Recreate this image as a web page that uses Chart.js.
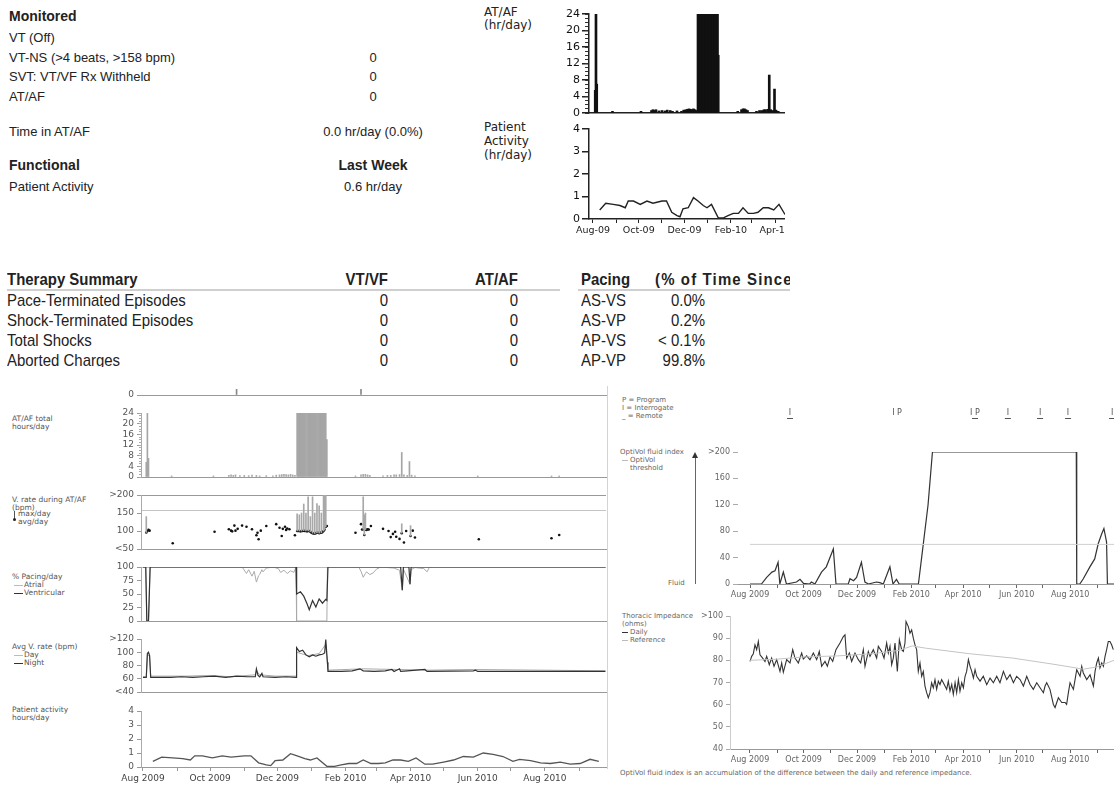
<!DOCTYPE html>
<html>
<head>
<meta charset="utf-8">
<title>Device report</title>
<script src="https://cdn.jsdelivr.net/npm/chart.js@4.4.0/dist/chart.umd.min.js"></script>
<style>
body { margin: 0; width: 1114px; height: 786px; overflow: hidden; position: relative; background: #fff; color: #222; font-family: "Liberation Sans", Arial, sans-serif; }
.t { position: absolute; white-space: nowrap; }
.m { font-size: 13px; line-height: 15px; }
.h { font-size: 14px; line-height: 15px; font-weight: bold; }
.v { width: 130px; text-align: center; left: 308px; }
.tb { font-family: "Liberation Sans Narrow", "Liberation Sans", Arial, sans-serif; font-size: 17px; line-height: 17px; transform: scaleX(0.88); transform-origin: 0 50%; }
.r { text-align: right; transform-origin: 100% 50%; }
.s { font-family: "DejaVu Sans", Verdana, sans-serif; font-size: 7.5px; line-height: 8px; color: #555; }
.k { font-family: "DejaVu Sans", Verdana, sans-serif; font-size: 7px; line-height: 8px; color: #666; }
.q { font-family: "DejaVu Sans", Verdana, sans-serif; font-size: 12px; line-height: 13px; color: #222; }
.ln { position: absolute; }
canvas { position: absolute; }
</style>
</head>
<body>

<!-- monitored / functional summary -->
<div class="t h" style="left:9px;top:9px">Monitored</div>
<div class="t m" style="left:9px;top:30px">VT (Off)</div>
<div class="t m" style="left:9px;top:50px">VT-NS (&gt;4 beats, &gt;158 bpm)</div>
<div class="t m v" style="top:50px">0</div>
<div class="t m" style="left:9px;top:69px">SVT: VT/VF Rx Withheld</div>
<div class="t m v" style="top:69px">0</div>
<div class="t m" style="left:9px;top:89px">AT/AF</div>
<div class="t m v" style="top:89px">0</div>
<div class="t m" style="left:9px;top:124px">Time in AT/AF</div>
<div class="t m v" style="top:124px">0.0 hr/day (0.0%)</div>
<div class="t h" style="left:9px;top:158px">Functional</div>
<div class="t h v" style="top:158px">Last Week</div>
<div class="t m" style="left:9px;top:179px">Patient Activity</div>
<div class="t m v" style="top:179px">0.6 hr/day</div>

<!-- small trend labels -->
<div class="t q" style="left:484px;top:6px">AT/AF</div>
<div class="t q" style="left:484px;top:19px">(hr/day)</div>
<div class="t q" style="left:484px;top:121px">Patient</div>
<div class="t q" style="left:484px;top:135px">Activity</div>
<div class="t q" style="left:484px;top:149px">(hr/day)</div>

<!-- therapy summary table -->
<div style="position:absolute;left:0;top:265px;width:790px;height:102px;overflow:hidden">
  <div class="t tb" style="left:7px;top:6px;font-weight:bold">Therapy Summary</div>
  <div class="t tb r" style="left:300px;width:88px;top:6px;font-weight:bold">VT/VF</div>
  <div class="t tb r" style="left:430px;width:88px;top:6px;font-weight:bold">AT/AF</div>
  <div class="t tb" style="left:581px;top:6px;font-weight:bold">Pacing</div>
  <div class="t tb" style="left:655px;top:6px;font-weight:bold;letter-spacing:1.3px">(% of Time Since Last Session)</div>
  <div class="ln" style="left:7px;top:24px;width:553px;height:2px;background:#cfcfcf"></div>
  <div class="ln" style="left:578px;top:24px;width:212px;height:2px;background:#cfcfcf"></div>

  <div class="t tb" style="left:7px;top:27px">Pace-Terminated Episodes</div>
  <div class="t tb" style="left:7px;top:47px">Shock-Terminated Episodes</div>
  <div class="t tb" style="left:7px;top:67px">Total Shocks</div>
  <div class="t tb" style="left:7px;top:87px">Aborted Charges</div>
  <div class="t tb r" style="left:300px;width:88px;top:27px">0</div>
  <div class="t tb r" style="left:300px;width:88px;top:47px">0</div>
  <div class="t tb r" style="left:300px;width:88px;top:67px">0</div>
  <div class="t tb r" style="left:300px;width:88px;top:87px">0</div>
  <div class="t tb r" style="left:430px;width:88px;top:27px">0</div>
  <div class="t tb r" style="left:430px;width:88px;top:47px">0</div>
  <div class="t tb r" style="left:430px;width:88px;top:67px">0</div>
  <div class="t tb r" style="left:430px;width:88px;top:87px">0</div>
  <div class="t tb" style="left:581px;top:27px">AS-VS</div>
  <div class="t tb" style="left:581px;top:47px">AS-VP</div>
  <div class="t tb" style="left:581px;top:67px">AP-VS</div>
  <div class="t tb" style="left:581px;top:87px">AP-VP</div>
  <div class="t tb r" style="left:623px;width:82px;top:27px">0.0%</div>
  <div class="t tb r" style="left:623px;width:82px;top:47px">0.2%</div>
  <div class="t tb r" style="left:623px;width:82px;top:67px">&lt; 0.1%</div>
  <div class="t tb r" style="left:623px;width:82px;top:87px">99.8%</div>
</div>

<!-- left trend panel labels -->
<div class="t s" style="left:12px;top:415px">AT/AF total<br>hours/day</div>
<div class="t s" style="left:12px;top:496px">V. rate during AT/AF<br>(bpm)</div>
<div class="t s" style="left:18px;top:510px">max/day<br>avg/day</div>
<div class="ln" style="left:14px;top:511px;width:1px;height:9px;background:#555"></div>
<div class="ln" style="left:13px;top:518px;width:3px;height:3px;border-radius:2px;background:#222"></div>
<div class="t s" style="left:12px;top:573px">% Pacing/day</div>
<div class="t s" style="left:24px;top:581px">Atrial<br>Ventricular</div>
<div class="ln" style="left:14px;top:585px;width:9px;height:1px;background:#bbb"></div>
<div class="ln" style="left:14px;top:593px;width:9px;height:1px;background:#333"></div>
<div class="t s" style="left:12px;top:643px">Avg V. rate (bpm)</div>
<div class="t s" style="left:24px;top:651px">Day<br>Night</div>
<div class="ln" style="left:14px;top:655px;width:9px;height:1px;background:#bbb"></div>
<div class="ln" style="left:14px;top:663px;width:9px;height:1px;background:#333"></div>
<div class="t s" style="left:12px;top:706px">Patient activity<br>hours/day</div>
<div class="ln" style="left:607px;top:386px;width:1px;height:383px;background:#d4d4d4"></div>

<!-- right trend panel labels -->
<div class="t k" style="left:622px;top:396px">P = Program<br>I = Interrogate<br>_ = Remote</div>
<div class="t k" style="left:620px;top:448px">OptiVol fluid index</div>
<div class="t k" style="left:630px;top:456px">OptiVol<br>threshold</div>
<div class="ln" style="left:622px;top:460px;width:6px;height:1px;background:#bbb"></div>
<div class="t k" style="left:668px;top:579px">Fluid</div>
<div class="ln" style="left:695px;top:458px;width:1px;height:126px;background:#666"></div>
<div class="ln" style="left:692px;top:452px;width:0;height:0;border-left:3px solid transparent;border-right:3px solid transparent;border-bottom:6px solid #333"></div>
<div class="t k" style="left:622px;top:612px">Thoracic Impedance<br>(ohms)</div>
<div class="t k" style="left:630px;top:628px">Daily<br>Reference</div>
<div class="ln" style="left:622px;top:632px;width:6px;height:1px;background:#333"></div>
<div class="ln" style="left:622px;top:640px;width:6px;height:1px;background:#bbb"></div>
<div class="t k" style="left:620px;top:769px">OptiVol fluid index is an accumulation of the difference between the daily and reference impedance.</div>

<canvas id="stripChart"></canvas>
<canvas id="atafChart"></canvas>
<canvas id="vrateChart"></canvas>
<canvas id="pacingChart"></canvas>
<canvas id="rateChart"></canvas>
<canvas id="activityChart"></canvas>
<canvas id="atafSmall"></canvas>
<canvas id="activitySmall"></canvas>
<canvas id="optivolChart"></canvas>
<canvas id="impedanceChart"></canvas>

<script>
(function () {
	'use strict';

	// days counted from 1 Aug 2009
	var monthStarts = [0, 31, 61, 92, 122, 153, 184, 212, 243, 273, 304, 334, 365, 396, 426];
	var monthLabels = ['Aug 2009', '', 'Oct 2009', '', 'Dec 2009', '', 'Feb 2010', '', 'Apr 2010', '', 'Jun 2010', '', 'Aug 2010', '', 'Oct 2010'];
	var monthShort = ['Aug-09', '', 'Oct-09', '', 'Dec-09', '', 'Feb-10', '', 'Apr-10', '', 'Jun-10', '', 'Aug-10', '', 'Oct-10'];
	var hourTicks = [0, 1, 2, 3, 4, 5, 6, 7, 8, 9, 10, 11, 12, 13, 14, 15, 16, 17, 18, 19, 20, 21, 22, 23, 24];

	// session markers
	var sessionDays = [85, 198];
	var eventDays = [45.6, 167.6, 256.5, 294, 330.7, 362.6, 412.8];
	var eventCodes = ['I', 'I P', 'I P', 'I', 'I', 'I', 'I'];
	var eventRemote = [true, false, true, true, true, true, true];

	// AT/AF hours per day
	var atafDays = [3, 4, 5, 26, 64, 78, 80, 82, 84, 88, 92, 96, 99, 103, 106, 112, 118, 121, 124, 126, 128, 130, 132, 134, 136, 138,
		140, 141, 142, 143, 144, 145, 146, 147, 148, 149, 150, 151, 152, 153, 154, 155, 156, 157, 158, 159, 160, 161, 162, 163, 164, 165, 166, 167,
		193, 198, 200, 202, 204, 206, 218, 222, 225, 228, 230, 233, 235, 237, 240, 242, 244, 247, 304, 371, 378];
	var atafHours = [5.5, 24, 7, 0.4, 0.4, 0.6, 0.8, 0.6, 0.8, 0.5, 0.6, 0.5, 0.7, 0.6, 0.4, 0.5, 0.4, 0.7, 0.8, 0.9, 1, 0.9, 0.8, 1, 0.8, 0.6,
		24, 24, 24, 24, 24, 24, 24, 24, 24, 24, 24, 24, 24, 24, 24, 24, 24, 24, 24, 24, 24, 24, 24, 24, 24, 24, 24, 14,
		0.4, 0.8, 1, 1, 0.8, 0.6, 0.4, 0.6, 0.6, 0.8, 0.8, 0.9, 9.2, 0.8, 0.6, 5.8, 0.7, 0.4, 0.4, 0.4, 0.4];

	// V. rate during AT/AF (bpm)
	var vAvgDays = [3, 4, 5, 6, 27, 65, 78, 80, 81, 83, 84, 86, 90, 94, 99, 103, 104, 105, 107, 112, 121, 124, 126, 127, 129, 130, 131, 133, 138,
		140, 141, 142, 143, 144, 145, 146, 147, 148, 149, 150, 151, 152, 153, 154, 155, 156, 157, 158, 159, 160, 161, 162, 163, 164, 165, 166, 167,
		193, 198, 199, 200, 201, 202, 203, 204, 205, 207, 218, 223, 225, 227, 229, 230, 233, 235, 237, 239, 243, 245, 247, 305, 371, 378];
	var vAvgRates = [96, 100, 103, 101, 66, 98, 105, 101, 99, 115, 101, 106, 115, 112, 105, 88, 95, 77, 101, 114, 119, 109, 86, 106, 112, 103, 107, 105, 88,
		100, 100, 100, 99, 100, 100, 101, 100, 100, 99, 100, 100, 98, 95, 94, 93, 93, 94, 95, 95, 94, 96, 95, 97, 100, 104, 112, 114,
		95, 119, 104, 105, 89, 104, 103, 105, 104, 114, 106, 100, 83, 92, 98, 84, 78, 94, 68, 100, 86, 101, 82, 77, 80, 89];
	var vMaxDays = [3, 140, 142, 144, 146, 148, 150, 152, 154, 156, 158, 160, 162, 164, 165, 166, 200, 201, 202, 235, 243];
	var vMaxRates = [140, 148, 145, 150, 175, 150, 195, 140, 195, 150, 176, 170, 150, 200, 200, 200, 195, 145, 150, 120, 115];
	var vThreshold = 158;

	// % pacing per day
	var ventDays = [0, 2.5, 3.5, 5, 6.5, 139, 139.5, 143, 146, 149, 151, 154, 157, 160, 163, 166, 167, 168, 234, 235.5, 236.5, 241.5, 242.5, 243.5, 420];
	var ventPct = [100, 100, 0, 0, 100, 100, 50, 54, 46, 32, 21, 38, 26, 41, 33, 40, 38, 100, 100, 57, 100, 100, 68, 100, 100];
	var atrDays = [0, 2.5, 3.5, 5, 6.5, 90, 94, 96, 99, 101, 103, 105, 106, 108, 109, 112, 118, 123, 125, 128, 131, 134, 137, 139, 139.5, 167, 167.5,
		196, 198, 200, 202, 203, 206, 209, 212, 216, 228, 233, 235.5, 236.5, 242.5, 243.5, 247, 255, 258, 260, 262, 420];
	var atrPct = [100, 100, 0, 0, 100, 100, 88, 95, 83, 92, 72, 84, 86, 95, 91, 98, 100, 97, 90, 94, 88, 93, 90, 100, 0, 0, 100,
		100, 92, 81, 88, 91, 86, 89, 96, 100, 98, 94, 57, 96, 68, 95, 99, 97, 91, 99, 100, 100];

	// average V. rate (bpm)
	var nightDays = [0, 3, 4, 5, 6, 7, 25, 35, 45, 55, 65, 75, 85, 95, 102, 103, 104.5, 106, 108, 109, 120, 130, 139, 139.5, 142, 145, 148, 151, 154, 157, 160, 163, 165, 166, 167.5, 168,
		180, 190, 197, 200, 210, 220, 226, 228, 233, 234, 240, 256, 258, 300, 302, 304, 420];
	var nightRates = [62, 62, 98, 100, 95, 62, 62, 63, 62, 63, 64, 62, 64, 63, 63, 75, 65, 63, 68, 63, 62, 63, 62, 107, 101, 103, 96, 93, 96, 94, 96, 97, 99, 119, 85, 71,
		71, 72, 75, 72, 71, 72, 74, 71, 75, 71, 72, 74, 71, 72, 73, 71, 71];
	var dayDays = [0, 3, 4, 6, 7, 40, 60, 80, 102, 103, 106, 120, 139, 139.5, 150, 160, 166, 168, 200, 230, 260, 300, 420];
	var dayRates = [63, 63, 96, 94, 64, 64, 65, 63, 66, 72, 66, 64, 64, 100, 95, 98, 112, 73, 75, 74, 73, 74, 72];

	// patient activity, hours per day (weekly)
	var activityDays = [9, 17, 27, 36, 43, 47, 54, 63, 72, 80, 92, 98, 105, 112, 116, 120, 127, 134, 140, 147,
		152, 158, 167, 174, 180, 187, 194, 200, 207, 214, 220, 227, 234, 241, 248, 256, 263, 273, 282, 291,
		300, 309, 318, 327, 336, 342, 352, 361, 370, 379, 388, 397, 406, 414];
	var activityHours = [0.4, 0.7, 0.65, 0.6, 0.5, 0.8, 0.8, 0.65, 0.8, 0.7, 0.8, 0.8, 0.3, 0.15, 0.1, 0.45, 0.5, 0.95, 0.8, 0.6,
		0.5, 0.65, 0.05, 0.05, 0.15, 0.25, 0.25, 0.5, 0.25, 0.25, 0.3, 0.5, 0.5, 0.4, 0.65, 0.2, 0.2, 0.35, 0.5, 0.75,
		0.7, 1.0, 0.9, 0.75, 0.4, 0.55, 0.45, 0.3, 0.25, 0.35, 0.2, 0.25, 0.55, 0.4];

	// OptiVol fluid index
	var optDays = [0, 13, 19, 25, 28.5, 32, 34, 38, 41.5, 53, 57, 61, 68, 70, 74, 81.5, 87, 95, 98, 112, 114, 118, 121.5, 127, 131, 135,
		144, 148, 152, 159.5, 163, 167, 170, 192, 195.5, 203, 208, 372, 372.5, 376, 380, 387.5, 393, 397, 401, 403.5, 406.5, 407.5, 415];
	var optIndex = [0, 0, 10, 18, 20, 33, 0, 18, 0, 3, 7, 1, 0, 3, 0, 18, 26, 53, 0, 0, 8, 5, 10, 33, 3, 0,
		3, 2, 0, 26, 0, 7, 0, 0, 38, 120, 200, 200, 0, 0, 8, 26, 38, 61, 76, 84, 64, 0, 0];
	var optThreshold = 60;

	// thoracic impedance (ohms)
	var impDays = [0, 1.9, 3.8, 5.7, 7.6, 9.5, 11.4, 14.4, 17.1, 19, 22, 24.7, 27.4, 30.4, 34.2, 36.1, 38, 41.8, 45.6, 48.7,
		51.3, 55.1, 58.9, 60.8, 64.6, 68.4, 72.2, 76, 79, 81.7, 85.5, 88.2, 91.2, 94.3, 98, 102.6, 106.4, 108.3, 110.2, 113.3,
		115.9, 119.7, 123.5, 126.2, 129.2, 131.1, 134.9, 136.8, 140.6, 144.4, 146.3, 150.1, 152.8, 155.8, 157.7, 159.6, 161.5, 163.4, 165.3, 168,
		170.3, 172.9, 174.8, 176.7, 177.9, 180.5, 182.4, 184.3, 186.2, 188.1, 190, 191.9, 193.8, 195.7, 197.6, 199.5, 201.4, 203.3, 205.2, 207.1,
		209, 210.9, 212.8, 214.7, 216.6, 218.5, 220.4, 222.3, 224.2, 226.1, 228, 230, 231.8, 233.8, 235.6, 237.6, 239.4, 241.4, 243.3, 245.2,
		247, 249, 250.9, 252.8, 254.7, 256.6, 258.5, 262.3, 266, 269.9, 273.7, 277.5, 281.3, 285, 288.9, 292.7, 296.5, 300.3, 304, 307.9,
		311.7, 315.5, 319.3, 323, 326.9, 330.7, 334.5, 336.4, 338.3, 342, 345.9, 347.8, 351.6, 355.4, 359.2, 361, 363, 364.9, 368.7, 370.6,
		372.5, 376.3, 378.2, 380, 383.9, 387.7, 391.5, 393.4, 395.3, 397.2, 399, 401, 402.9, 404.8, 406.6, 408.5, 410.4, 412.3, 414.2];
	var impDaily = [79.5, 81.8, 83, 87, 84.8, 88.5, 82.5, 81, 79.5, 81.8, 78, 81, 77.3, 80.3, 75, 78.8, 74.6, 80.3, 78.8, 84.8,
		81, 78.8, 83.3, 80.6, 82, 80.3, 83.3, 80.3, 84, 77.3, 79.5, 77.3, 81.5, 79.5, 84.8, 87.8, 90.7, 91.5, 81, 83.3,
		79.5, 83.3, 80.3, 78.8, 84.8, 77.3, 84, 81.8, 84.8, 81, 86.3, 84, 81, 87.8, 83.3, 86.3, 78, 81, 87.8, 75,
		89.3, 84.8, 84, 87.8, 97.5, 95.2, 92.2, 93.7, 90, 87, 84.8, 75, 78.8, 72.8, 75, 68.4, 65.4, 63.1, 65.4, 69.9,
		67.6, 71.3, 66.9, 70.6, 69.1, 71.3, 69.9, 68.4, 66.9, 70.6, 66.1, 69.1, 64.6, 69.9, 65.4, 71.3, 66.1, 69.9, 67.6, 72.8,
		75, 80.3, 77.3, 75, 72, 75.8, 72.8, 70.6, 72.8, 69, 72, 69.9, 72.8, 69.9, 75, 71.3, 73.5, 69.9, 72.8, 71.3,
		68.4, 72.8, 69.1, 66.9, 69.9, 67.6, 65.4, 68.4, 69.9, 66.9, 60.1, 58.7, 63.1, 61, 61, 60.1, 65.4, 69.9, 66.9, 71.3,
		75.8, 72.8, 77.3, 74.3, 71.3, 73.5, 68.4, 75, 78.8, 81, 76.6, 78.8, 77.3, 81.8, 84.8, 88.5, 88.5, 87, 84.8];
	var refDays = [0, 30, 60, 100, 140, 170, 185, 200, 250, 300, 350, 380, 395, 415];
	var refOhms = [80, 80.5, 81.5, 82, 83, 84.5, 86.5, 85.5, 83, 81, 78, 76, 77, 80];

	var FONT = '"DejaVu Sans", Verdana, sans-serif';
	Chart.defaults.font.family = FONT;
	Chart.defaults.animation = false;
	Chart.defaults.events = [];
	Chart.defaults.plugins.legend.display = false;
	Chart.defaults.plugins.tooltip.enabled = false;

	function pts(xs, ys) {
		return xs.map(function (x, i) { return { x: x, y: ys[i] }; });
	}
	function fixedTicks(values) {
		return function (scale) {
			scale.ticks = values.filter(function (v) { return v >= scale.min && v <= scale.max; })
				.map(function (v) { return { value: v }; });
		};
	}
	function labelFrom(values, labels) {
		return function (value) {
			var i = values.indexOf(value);
			return i < 0 ? '' : labels[i];
		};
	}
	function fitSize(prop, size) {
		return function (s) {
			s[prop] = size;
			s.paddingTop = 0; s.paddingBottom = 0; s.paddingLeft = 0; s.paddingRight = 0;
		};
	}

	function xAxis(range, labels, show, font, color) {
		return {
			type: 'linear', min: range[0], max: range[1], offset: false,
			afterBuildTicks: fixedTicks(monthStarts),
			afterFit: fitSize('height', show ? 16 : 0),
			ticks: { display: show, autoSkip: false, maxRotation: 0, padding: 2, color: color || '#444', font: font || { size: 9 }, callback: labelFrom(monthStarts, labels) },
			grid: { display: show, drawOnChartArea: false, tickLength: 4, color: color || '#999' },
			border: { display: true, color: '#999' }
		};
	}
	function yAxis(min, max, values, labels, width, extra) {
		var ax = {
			type: 'linear', min: min, max: max, weight: 1,
			afterBuildTicks: fixedTicks(values),
			afterFit: fitSize('width', width),
			ticks: { autoSkip: false, padding: 3, color: '#555', font: { size: 9 }, callback: labelFrom(values, labels) },
			grid: { drawOnChartArea: false, tickLength: 4, color: '#999' },
			border: { display: true, color: '#aaa' }
		};
		return Object.assign(ax, extra || {});
	}
	function minorAxis(values, len, color) {
		return {
			type: 'linear', min: values[0], max: values[values.length - 1], weight: 0,
			afterBuildTicks: fixedTicks(values),
			afterFit: fitSize('width', 0),
			ticks: { display: false, autoSkip: false },
			grid: { drawOnChartArea: false, tickLength: len, color: color },
			border: { display: false }
		};
	}

	function panel(id, area, m, xh, datasets, scales, plugins) {
		var c = document.getElementById(id);
		var w = Math.round(area.r - area.l + m.l + m.r);
		var h = Math.round(area.b - area.t + m.t + m.b + xh);
		c.width = w; c.height = h;
		c.style.width = w + 'px'; c.style.height = h + 'px';
		c.style.left = Math.round(area.l - m.l) + 'px';
		c.style.top = Math.round(area.t - m.t) + 'px';
		return new Chart(c, {
			type: 'line',
			data: { datasets: datasets },
			options: {
				responsive: false,
				devicePixelRatio: 1,
				layout: { padding: { left: 0, right: m.r, top: m.t, bottom: m.b } },
				scales: scales
			},
			plugins: plugins || []
		});
	}

	function lineSet(xs, ys, color, width) {
		return { data: pts(xs, ys), borderColor: color, borderWidth: width, pointRadius: 0, tension: 0, fill: false };
	}
	function barSet(xs, ys, color, thick) {
		return { type: 'bar', data: pts(xs, ys), backgroundColor: color, barThickness: thick, grouped: false };
	}

	// left stacked trend panel
	var leftRange = [-1.8, 420.5];
	var LM = { l: 40, r: 4, t: 8, b: 8 };

	panel('stripChart', { l: 141, r: 606, t: 389, b: 395 }, { l: 40, r: 4, t: 6, b: 6 }, 0,
		[barSet(sessionDays, sessionDays.map(function () { return 1; }), '#888', 1)],
		{ x: xAxis(leftRange, monthLabels, false), y: yAxis(0, 1, [0], ['0'], 40, { border: { display: false } }) });

	panel('atafChart', { l: 141, r: 606, t: 413, b: 477 }, LM, 0,
		[barSet(atafDays, atafHours, '#a6a6a6', 1)],
		{
			x: xAxis(leftRange, monthLabels, false),
			y: yAxis(0, 24, [0, 4, 8, 12, 16, 20, 24], ['0', '4', '8', '12', '16', '20', '24'], 40),
			y2: minorAxis(hourTicks, 2, '#aaa')
		});

	var vRateLow = vMaxDays.map(function (d) {
		var i = vAvgDays.indexOf(d);
		return i < 0 ? 100 : vAvgRates[i];
	});
	panel('vrateChart', { l: 141, r: 606, t: 495, b: 549 }, LM, 0,
		[
			{ type: 'bar', data: vMaxDays.map(function (d, i) { return { x: d, y: [vRateLow[i], vMaxRates[i]] }; }), backgroundColor: '#a8a8a8', barThickness: 1, grouped: false },
			{ data: pts(vAvgDays, vAvgRates), showLine: false, pointRadius: 1.3, pointBackgroundColor: '#111', pointBorderWidth: 0 }
		],
		{
			x: xAxis(leftRange, monthLabels, false),
			y: yAxis(50, 200, [50, 100, 150, vThreshold, 200], ['<50', '100', '150', '', '>200'], 40, {
				grid: {
					drawOnChartArea: true, tickLength: 4, tickColor: function (c) { return c.tick && c.tick.value === vThreshold ? 'rgba(0,0,0,0)' : '#999'; },
					color: function (c) {
						if (!c.tick) { return 'rgba(0,0,0,0)'; }
						if (c.tick.value === 200) { return '#999'; }
						return c.tick.value === vThreshold ? '#c4c4c4' : 'rgba(0,0,0,0)';
					}
				}
			})
		});

	panel('pacingChart', { l: 141, r: 606, t: 567, b: 621 }, LM, 0,
		[lineSet(ventDays, ventPct, '#333', 1.2), lineSet(atrDays, atrPct, '#aaa', 1)],
		{
			x: xAxis(leftRange, monthLabels, false),
			y: yAxis(0, 100, [0, 25, 50, 75, 100], ['0', '25', '50', '75', '100'], 40, {
				grid: {
					drawOnChartArea: true, tickLength: 4, tickColor: '#999',
					color: function (c) { return c.tick && c.tick.value === 100 ? '#bbb' : 'rgba(0,0,0,0)'; }
				}
			})
		});

	panel('rateChart', { l: 141, r: 606, t: 639, b: 692 }, LM, 0,
		[lineSet(nightDays, nightRates, '#333', 1.2), lineSet(dayDays, dayRates, '#aaa', 1)],
		{
			x: xAxis(leftRange, monthLabels, false),
			y: yAxis(40, 120, [40, 60, 80, 100, 120], ['<40', '60', '80', '100', '>120'], 40)
		});

	panel('activityChart', { l: 141, r: 606, t: 711, b: 767 }, { l: 40, r: 4, t: 8, b: 2 }, 16,
		[lineSet(activityDays, activityHours, '#555', 1.3)],
		{
			x: xAxis(leftRange, monthLabels, true),
			y: yAxis(0, 4, [0, 1, 2, 3, 4], ['0', '1', '2', '3', '4'], 40)
		});

	// top right small trends
	var smallRange = [-5.3, 256];
	var smallFont = { size: 11 };
	var blackY = function (min, max, values, labels) {
		return yAxis(min, max, values, labels, 40, {
			ticks: { autoSkip: false, padding: 2, color: '#111', font: smallFont, callback: labelFrom(values, labels) },
			grid: { drawOnChartArea: false, tickLength: 7, color: '#222', lineWidth: 1.5 },
			border: { display: true, color: '#222', width: 1.5 }
		});
	};
	panel('atafSmall', { l: 589, r: 785, t: 14, b: 113 }, { l: 40, r: 0, t: 8, b: 4 }, 0,
		[barSet(atafDays, atafHours, '#111', 2)],
		{
			x: Object.assign(xAxis(smallRange, monthShort, false), { border: { display: true, color: '#222', width: 1.5 } }),
			y: blackY(0, 24, [0, 4, 8, 12, 16, 20, 24], ['0', '4', '8', '12', '16', '20', '24']),
			y2: minorAxis(hourTicks, 4, '#333')
		});

	var smallX = xAxis(smallRange, monthShort, true, { size: 9.5 }, '#222');
	smallX.border = { display: true, color: '#222', width: 1.5 };
	panel('activitySmall', { l: 589, r: 785, t: 129, b: 219 }, { l: 40, r: 0, t: 8, b: 2 }, 16,
		[lineSet(activityDays, activityHours, '#222', 1.4)],
		{
			x: smallX,
			y: blackY(0, 4, [0, 1, 2, 3, 4], ['0', '1', '2', '3', '4'])
		});

	// right panel: OptiVol and thoracic impedance
	var eventPlugin = {
		id: 'sessionEvents',
		afterDraw: function (chart) {
			var xs = chart.scales.x, ctx = chart.ctx, y = chart.chartArea.top - 39;
			ctx.save();
			ctx.font = '8px ' + FONT;
			ctx.fillStyle = '#555';
			ctx.textAlign = 'center';
			ctx.textBaseline = 'middle';
			eventDays.forEach(function (d, i) {
				var px = xs.getPixelForValue(d);
				ctx.fillText(eventCodes[i], px, y);
				if (eventRemote[i]) { ctx.fillRect(px - 3, y + 5, 6, 1); }
			});
			ctx.restore();
		}
	};
	var rightFont = { size: 8 };
	function rightY(min, max, values, labels, tl, border) {
		return yAxis(min, max, values, labels, 40, {
			ticks: { autoSkip: false, padding: 3, color: '#666', font: rightFont, callback: labelFrom(values, labels) },
			grid: { drawOnChartArea: false, tickLength: tl, color: '#aaa' },
			border: { display: border, color: '#ccc' }
		});
	}

	panel('optivolChart', { l: 738, r: 1114, t: 452, b: 583.5 }, { l: 40, r: 0, t: 52, b: 2 }, 16,
		[
			lineSet([0, 415], [optThreshold, optThreshold], '#cfcfcf', 1),
			lineSet(optDays, optIndex, '#333', 1.2)
		],
		{
			x: xAxis([-13.7, 415], monthLabels, true, rightFont, '#666'),
			y: rightY(0, 200, [0, 40, 80, 120, 160, 200], ['0', '40', '80', '120', '160', '>200'], 5, false)
		}, [eventPlugin]);

	panel('impedanceChart', { l: 730, r: 1114, t: 616, b: 749 }, { l: 40, r: 0, t: 8, b: 2 }, 16,
		[
			lineSet(refDays, refOhms, '#c4c4c4', 1),
			lineSet(impDays, impDaily, '#333', 1.1)
		],
		{
			x: xAxis([-22.8, 415], monthLabels, true, rightFont, '#666'),
			y: rightY(40, 100, [40, 50, 60, 70, 80, 90, 100], ['40', '50', '60', '70', '80', '90', '>100'], 4, true)
		});
})();
</script>
</body>
</html>
